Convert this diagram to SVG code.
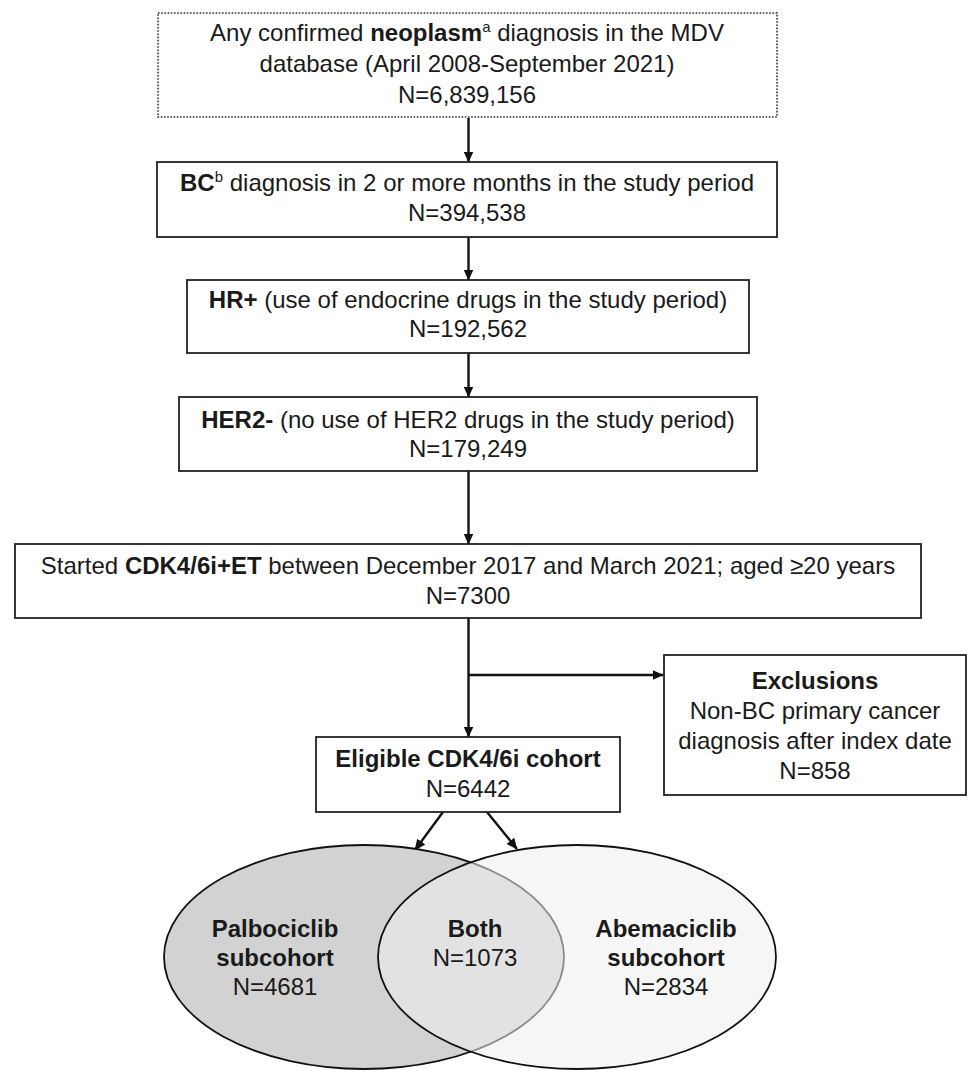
<svg xmlns="http://www.w3.org/2000/svg" width="973" height="1071" viewBox="0 0 973 1071">
<style>
text{font-family:"Liberation Sans",Arial,sans-serif;font-size:24px;fill:#1a1a1a;text-anchor:middle}
.b{font-weight:bold}
.sup{font-size:15px}
.box{fill:#fff;stroke:#222;stroke-width:1.8}
.dot{fill:#fff;stroke:#333;stroke-width:1.6;stroke-dasharray:1.6 1.6}
.conn{stroke:#111;stroke-width:2.4;fill:none}
</style>
<defs>
<marker id="ah" viewBox="0 0 11 10" refX="10.5" refY="5" markerWidth="11" markerHeight="10" markerUnits="userSpaceOnUse" orient="auto">
<path d="M0,0 L11,5 L0,10 z" fill="#111"/>
</marker>
</defs>
<rect width="973" height="1071" fill="#fff"/>

<g id="connectors">
<line class="conn" x1="468.5" y1="118" x2="468.5" y2="162" marker-end="url(#ah)"/>
<line class="conn" x1="468.5" y1="237" x2="468.5" y2="280" marker-end="url(#ah)"/>
<line class="conn" x1="468.5" y1="353" x2="468.5" y2="397" marker-end="url(#ah)"/>
<line class="conn" x1="468.5" y1="471" x2="468.5" y2="544" marker-end="url(#ah)"/>
<line class="conn" x1="468.5" y1="618" x2="468.5" y2="737" marker-end="url(#ah)"/>
<line class="conn" x1="468.5" y1="675" x2="663" y2="675" marker-end="url(#ah)"/>
<line class="conn" x1="443" y1="812" x2="415" y2="850" marker-end="url(#ah)"/>
<line class="conn" x1="487" y1="812" x2="517" y2="849" marker-end="url(#ah)"/>
</g>

<g id="node-neoplasm">
<rect class="dot" x="158" y="13" width="619" height="104"/>
<text x="467" y="41">Any confirmed <tspan class="b">neoplasm</tspan><tspan class="sup" dy="-9">a</tspan><tspan dy="9"> diagnosis in the MDV</tspan></text>
<text x="467" y="72">database (April 2008-September 2021)</text>
<text x="467" y="103">N=6,839,156</text>
</g>

<g id="node-bc">
<rect class="box" x="157" y="162" width="620" height="75"/>
<text x="467" y="191"><tspan class="b">BC</tspan><tspan class="sup" dy="-9">b</tspan><tspan dy="9"> diagnosis in 2 or more months in the study period</tspan></text>
<text x="467" y="221">N=394,538</text>
</g>

<g id="node-hr">
<rect class="box" x="187" y="280" width="562" height="73"/>
<text x="468" y="308"><tspan class="b">HR+</tspan> (use of endocrine drugs in the study period)</text>
<text x="468" y="337">N=192,562</text>
</g>

<g id="node-her2">
<rect class="box" x="179" y="397" width="578" height="74"/>
<text x="468" y="428"><tspan class="b">HER2-</tspan> (no use of HER2 drugs in the study period)</text>
<text x="468" y="457">N=179,249</text>
</g>

<g id="node-cdk">
<rect class="box" x="15" y="544" width="906" height="74"/>
<text x="468" y="574">Started <tspan class="b">CDK4/6i+ET</tspan> between December 2017 and March 2021; aged ≥20 years</text>
<text x="468" y="604">N=7300</text>
</g>

<g id="node-exclusions">
<rect class="box" x="664" y="655" width="302" height="140"/>
<text x="815" y="689" class="b">Exclusions</text>
<text x="815" y="719">Non-BC primary cancer</text>
<text x="815" y="749">diagnosis after index date</text>
<text x="815" y="779">N=858</text>
</g>

<g id="node-eligible">
<rect class="box" x="316" y="737" width="304" height="75"/>
<text x="468" y="767" class="b">Eligible CDK4/6i cohort</text>
<text x="468" y="797">N=6442</text>
</g>

<g id="node-palbociclib">
<ellipse cx="364" cy="957" rx="200" ry="112" fill="#d2d2d2" stroke="#111" stroke-width="1.8"/>
</g>
<g id="node-abemaciclib">
<ellipse cx="577" cy="957" rx="199" ry="112" fill="#efefef" fill-opacity="0.55" stroke="#111" stroke-width="1.8"/>
</g>

<g id="labels-venn">
<text x="275" y="937" class="b">Palbociclib</text>
<text x="275" y="966" class="b">subcohort</text>
<text x="275" y="995">N=4681</text>
<text x="475" y="937" class="b">Both</text>
<text x="475" y="966">N=1073</text>
<text x="666" y="937" class="b">Abemaciclib</text>
<text x="666" y="966" class="b">subcohort</text>
<text x="666" y="995">N=2834</text>
</g>
</svg>
